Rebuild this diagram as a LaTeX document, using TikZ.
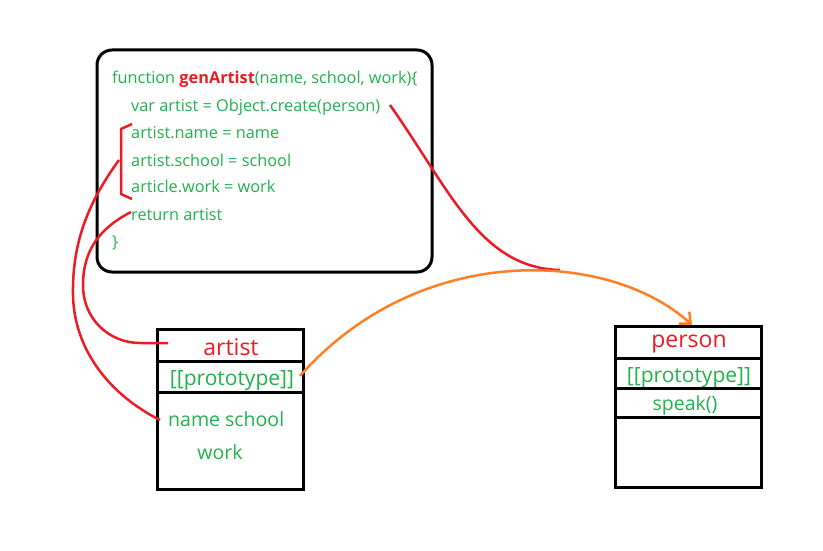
\documentclass[tikz,border=0pt]{standalone}
\usepackage{fontspec}
\setmainfont{Open Sans}
\usetikzlibrary{arrows.meta,calc}
\definecolor{jgreen}{RGB}{34,177,76}
\definecolor{jred}{RGB}{237,28,36}
\definecolor{jorange}{RGB}{255,127,39}
\begin{document}
\begin{tikzpicture}[x=1pt,y=-1pt,
  codebox/.style={draw=black,line width=3pt,rounded corners=15pt,minimum width=335pt,minimum height=222pt,inner sep=0pt},
  objbox/.style={draw=black,line width=3pt,minimum width=146pt,inner sep=0pt},
  codeline/.style={anchor=base west,inner sep=0pt,text=jgreen,font=\fontsize{16.3}{18}\selectfont},
  boxtitle/.style={anchor=base,inner sep=0pt,text=jred,font=\fontsize{23}{26}\selectfont},
  boxtext/.style={anchor=base,inner sep=0pt,text=jgreen,font=\fontsize{19.5}{22}\selectfont},
  prototext/.style={boxtext,font=\fontsize{21}{24}\selectfont},
  divider/.style={line width=3pt},
  redline/.style={draw=jred,line width=2.5pt},
  orangeline/.style={draw=jorange,line width=2.5pt}]
\useasboundingbox (0,0) rectangle (823,551);
\fill[white] (0,0) rectangle (823,551);
% code box
\node[codebox] (code) at (264.5,161) {};
\node[codeline] (l1) at (112,84) {function \textbf{\color{jred}genArtist}(name, school, work)\{};
\node[codeline] (l2) at (131,112) {var artist = Object.create(person)};
\node[codeline] (l3) at (131,139) {artist.name = name};
\node[codeline] (l4) at (131,166) {artist.school = school};
\node[codeline] (l5) at (131,193) {article.work = work};
\node[codeline] (l6) at (131,220) {return artist};
\node[codeline] (l7) at (112,247) {\}};
% artist box
\node[objbox,minimum height=160pt] (artist) at (230,409) {};
\draw[divider] ([yshift=-34pt]artist.north west) -- ([yshift=-34pt]artist.north east);
\draw[divider] ([yshift=-65pt]artist.north west) -- ([yshift=-65pt]artist.north east);
\node[boxtitle] (atitle) at (231,355) {artist};
\node[prototext] (aproto) at (232,385) {[[prototype]]};
\node[boxtext,anchor=base west] (aname) at (168,426) {name school};
\node[boxtext] (awork) at (220,459) {work};
% person box
\node[objbox,minimum height=161pt] (person) at (688,406.5) {};
\draw[divider] ([yshift=-34pt]person.north west) -- ([yshift=-34pt]person.north east);
\draw[divider] ([yshift=-64pt]person.north west) -- ([yshift=-64pt]person.north east);
\draw[divider] ([yshift=-93pt]person.north west) -- ([yshift=-93pt]person.north east);
\node[boxtitle] (ptitle) at (689,347) {person};
\node[prototext] (pproto) at (689,382) {[[prototype]]};
\node[boxtext] (pspeak) at (685,410) {speak()};
% connector coordinates
\coordinate (bt) at (132,124);
\coordinate (bb) at (132,199);
\coordinate (bmid) at (119,160);
\coordinate (nameend) at (160,420);
\coordinate (retstart) at (131,212);
\coordinate (titleend) at (168,343);
\coordinate (createend) at (390,105);
\coordinate (createtip) at (560,270);
\coordinate (protostart) at (300,376);
\coordinate (persontop) at (692,325);
% bracket
\draw[redline,line join=round] (bt) -- (121,129) -- (121,194) -- (bb);
% curves
\draw[redline] (bmid) .. controls (90,200) and (72,240) .. (73,295) .. controls (74,350) and (110,395) .. (nameend);
\draw[redline] (retstart) .. controls (100,228) and (83,250) .. (83,285) .. controls (83,320) and (110,343) .. (140,343) -- (titleend);
\draw[redline] (createend) .. controls (450,190) and (480,268) .. (createtip);
\draw[orangeline,-{Straight Barb[length=9pt,width=16pt,line width=2.5pt]}] (protostart) .. controls (420,240) and (610,250) .. (persontop);
\end{tikzpicture}
\end{document}
